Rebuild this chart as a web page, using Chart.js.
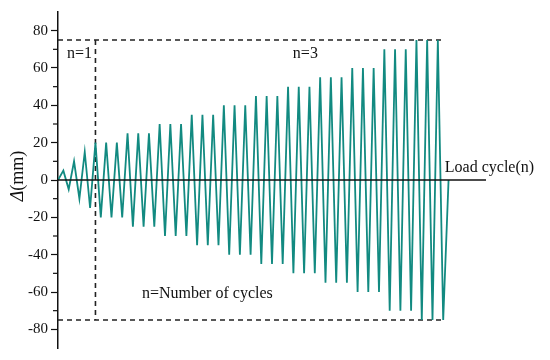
<!DOCTYPE html>
<html>
<head>
<meta charset="utf-8">
<script src="https://cdn.jsdelivr.net/npm/chart.js@4"></script>
<style>
  html, body { margin: 0; padding: 0; background: #fff; }
  #wrap { width: 550px; height: 360px; }
</style>
</head>
<body>
<div id="wrap"><canvas id="c" width="550" height="360"></canvas></div>
<script>
// Displacement (mm) at each load step
const displacement = [
  0,
  5, -5, 10, -10, 15, -15,
  20, -20, 20, -20, 20, -20,
  25, -25, 25, -25, 25, -25,
  30, -30, 30, -30, 30, -30,
  35, -35, 35, -35, 35, -35,
  40, -40, 40, -40, 40, -40,
  45, -45, 45, -45, 45, -45,
  50, -50, 50, -50, 50, -50,
  55, -55, 55, -55, 55, -55,
  60, -60, 60, -60, 60, -60,
  70, -70, 70, -70, 70, -70,
  75, -75, 75, -75, 75, -75,
  0
];
const loadStep = displacement.map((_, i) => i);
const yTickLabels = [-80, -60, -40, -20, 0, 20, 40, 60, 80];
const boxLimit = 75;          // dashed envelope, mm
const phaseBoundaryStep = 7;  // end of n=1 phase
const lastStep = 72;
const annotations = [
  { text: 'n=1', x: 1.7, y: 67.5 },
  { text: 'n=3', x: 43.9, y: 67.5 },
  { text: 'n=Number of cycles', x: 15.7, y: -60.7 },
  { text: 'Load cycle(n)', x: 72.3, y: 6.8 }
];

const teal = '#128a81';
const serif = "'Liberation Serif', 'Times New Roman', serif";

const overlay = {
  id: 'overlay',
  beforeDatasetsDraw(chart) {
    const { ctx, chartArea, scales: { x, y } } = chart;
    ctx.save();
    ctx.strokeStyle = '#222';
    ctx.lineWidth = 1.6;
    ctx.setLineDash([5, 4]);
    const xr = x.getPixelForValue(lastStep);
    const yt = y.getPixelForValue(boxLimit);
    const yb = y.getPixelForValue(-boxLimit);
    const xv = x.getPixelForValue(phaseBoundaryStep);
    ctx.beginPath();
    ctx.moveTo(chartArea.left, yt); ctx.lineTo(xr, yt);
    ctx.moveTo(chartArea.left, yb); ctx.lineTo(xr, yb);
    ctx.moveTo(xv, yt); ctx.lineTo(xv, yb);
    ctx.stroke();
    ctx.restore();
  },
  afterDatasetsDraw(chart) {
    const { ctx, chartArea, scales: { x, y } } = chart;
    ctx.save();
    // zero line
    const y0 = y.getPixelForValue(0);
    ctx.strokeStyle = '#111';
    ctx.lineWidth = 1.3;
    ctx.beginPath();
    ctx.moveTo(chartArea.left, y0);
    ctx.lineTo(chartArea.right, y0);
    ctx.stroke();
    // minor ticks
    ctx.lineWidth = 1.2;
    y.ticks.forEach(t => {
      if (t.value % 20 !== 0 && Math.abs(t.value) < 90) {
        const py = y.getPixelForValue(t.value);
        ctx.beginPath();
        ctx.moveTo(chartArea.left - 5, py);
        ctx.lineTo(chartArea.left, py);
        ctx.stroke();
      }
    });
    // annotations
    ctx.fillStyle = '#111';
    ctx.font = '16px ' + serif;
    ctx.textAlign = 'left';
    ctx.textBaseline = 'middle';
    annotations.forEach(a => {
      ctx.fillText(a.text, x.getPixelForValue(a.x), y.getPixelForValue(a.y));
    });
    // y-axis title: italic Delta + (mm)
    ctx.translate(18, 176);
    ctx.rotate(-Math.PI / 2);
    ctx.font = 'italic 18px ' + serif;
    const w1 = ctx.measureText('\u0394').width;
    ctx.font = '18px ' + serif;
    const w2 = ctx.measureText('(mm)').width;
    const start = -(w1 + w2) / 2;
    ctx.font = 'italic 18px ' + serif;
    ctx.fillText('\u0394', start, 0);
    ctx.font = '18px ' + serif;
    ctx.fillText('(mm)', start + w1, 0);
    ctx.restore();
  }
};

new Chart(document.getElementById('c'), {
  type: 'line',
  data: {
    datasets: [{
      data: loadStep.map((s, i) => ({ x: s, y: displacement[i] })),
      borderColor: teal,
      borderWidth: 1.8,
      pointRadius: 0,
      tension: 0,
      fill: false
    }]
  },
  options: {
    responsive: false,
    animation: false,
    layout: { padding: { top: 9, bottom: 7, right: 64, left: 0 } },
    plugins: { legend: { display: false }, tooltip: { enabled: false } },
    scales: {
      x: { type: 'linear', min: 0, max: 80, display: false },
      y: {
        min: -90, max: 90,
        afterFit(scale) { scale.width = 58; },
        border: { display: true, color: '#111', width: 1.5 },
        grid: {
          drawOnChartArea: false,
          drawTicks: true,
          tickLength: 7,
          tickWidth: 1.2,
          tickColor: ctx => (yTickLabels.includes(ctx.tick && ctx.tick.value) ? '#111' : 'rgba(0,0,0,0)')
        },
        ticks: {
          stepSize: 10,
          autoSkip: false,
          padding: 3,
          color: '#111',
          font: { family: serif, size: 15 },
          callback: v => (yTickLabels.includes(v) ? String(v) : '')
        }
      }
    }
  },
  plugins: [overlay]
});
</script>
</body>
</html>
